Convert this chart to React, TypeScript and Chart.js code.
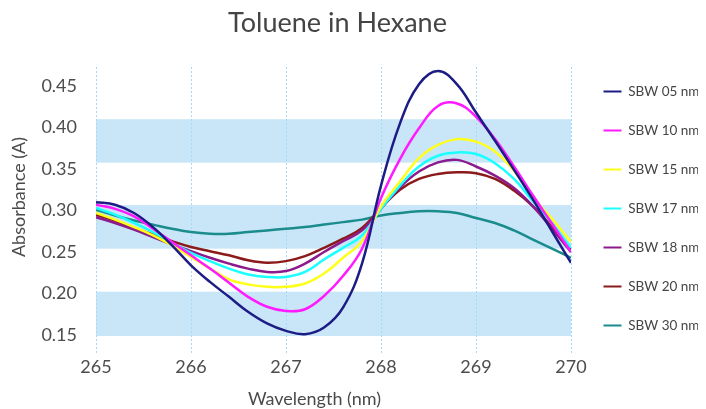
import React, { useEffect, useRef } from "react";
import { Chart, registerables } from "chart.js";

Chart.register(...registerables);

const CHART_TITLE = "Toluene in Hexane";
const X_TITLE = "Wavelength (nm)";
const Y_TITLE = "Absorbance (A)";

const WAVELENGTHS = [
  265.0, 265.2, 265.4, 265.6, 265.8, 266.0, 266.2, 266.4, 266.6, 266.8,
  267.0, 267.2, 267.4, 267.6, 267.8, 268.0, 268.2, 268.4, 268.6, 268.8,
  269.0, 269.2, 269.4, 269.6, 269.8, 270.0,
];

const SBW_05 = [0.310, 0.307, 0.297, 0.280, 0.258, 0.234, 0.214, 0.196, 0.178, 0.164, 0.155, 0.151, 0.159, 0.183, 0.236, 0.330, 0.405, 0.452, 0.468, 0.452, 0.418, 0.384, 0.349, 0.313, 0.275, 0.237];
const SBW_10 = [0.307, 0.302, 0.293, 0.278, 0.262, 0.246, 0.230, 0.213, 0.196, 0.184, 0.179, 0.181, 0.197, 0.221, 0.254, 0.315, 0.362, 0.399, 0.426, 0.429, 0.413, 0.386, 0.353, 0.318, 0.284, 0.250];
const SBW_15 = [0.297, 0.289, 0.280, 0.270, 0.258, 0.244, 0.230, 0.217, 0.211, 0.208, 0.208, 0.212, 0.224, 0.243, 0.263, 0.305, 0.335, 0.363, 0.379, 0.386, 0.383, 0.371, 0.348, 0.316, 0.290, 0.262];
const SBW_17 = [0.303, 0.295, 0.285, 0.274, 0.261, 0.249, 0.239, 0.230, 0.223, 0.220, 0.220, 0.226, 0.241, 0.255, 0.270, 0.302, 0.330, 0.353, 0.366, 0.370, 0.368, 0.357, 0.338, 0.311, 0.285, 0.255];
const SBW_18 = [0.292, 0.285, 0.277, 0.268, 0.259, 0.251, 0.243, 0.236, 0.230, 0.226, 0.227, 0.236, 0.250, 0.263, 0.276, 0.302, 0.328, 0.347, 0.358, 0.361, 0.353, 0.342, 0.327, 0.305, 0.278, 0.250];
const SBW_20 = [0.295, 0.288, 0.279, 0.271, 0.263, 0.256, 0.251, 0.246, 0.240, 0.237, 0.239, 0.245, 0.255, 0.266, 0.279, 0.303, 0.325, 0.338, 0.344, 0.346, 0.345, 0.338, 0.324, 0.305, 0.280, 0.252];
const SBW_30 = [0.301, 0.294, 0.288, 0.283, 0.278, 0.274, 0.272, 0.272, 0.274, 0.276, 0.278, 0.280, 0.283, 0.286, 0.289, 0.294, 0.297, 0.299, 0.299, 0.297, 0.291, 0.285, 0.276, 0.265, 0.254, 0.243];

const SERIES_NAMES = ["SBW 05 nm", "SBW 10 nm", "SBW 15 nm", "SBW 17 nm", "SBW 18 nm", "SBW 20 nm", "SBW 30 nm"];
const SERIES_VALUES = [SBW_05, SBW_10, SBW_15, SBW_17, SBW_18, SBW_20, SBW_30];
const SERIES_COLORS = ["#1c1c84", "#ff1aff", "#ffff1a", "#1affff", "#8c1a8c", "#8b1a1a", "#1a8c8c"];

const X_TICKS = [265, 266, 267, 268, 269, 270];
const Y_MIN = 0.1259;
const Y_MAX = 0.4729;
const BAND_RANGES = [
  [0.3576, 0.41],
  [0.254, 0.3066],
  [0.1488, 0.2022],
];

const FONT = "Lato";

const bandsPlugin = {
  id: "bands",
  beforeDraw(chart: any) {
    const { ctx, chartArea, scales } = chart;
    const y = scales.y;
    ctx.save();
    ctx.fillStyle = "#c9e6f9";
    for (const [lo, hi] of BAND_RANGES) {
      const top = y.getPixelForValue(hi);
      const bottom = y.getPixelForValue(lo);
      ctx.fillRect(chartArea.left, top, chartArea.right - chartArea.left, bottom - top);
    }
    ctx.restore();
  },
};

const textPlugin = {
  id: "texts",
  afterDraw(chart: any) {
    const { ctx, chartArea } = chart;
    const midX = (chartArea.left + chartArea.right) / 2;
    ctx.save();
    ctx.fillStyle = "#444";
    ctx.textAlign = "center";
    ctx.textBaseline = "alphabetic";
    ctx.font = `27px ${FONT}`;
    ctx.fillText(CHART_TITLE, midX + 4, 24);
    ctx.fillStyle = "#4a4a4a";
    ctx.font = `18px ${FONT}`;
    ctx.fillText(X_TITLE, midX - 19, chartArea.bottom + 50);
    ctx.translate(17, (chartArea.top + chartArea.bottom) / 2 - 14);
    ctx.rotate(-Math.PI / 2);
    ctx.fillText(Y_TITLE, 0, 0);
    ctx.restore();
  },
};

export default function App() {
  const canvasRef = useRef<HTMLCanvasElement | null>(null);

  useEffect(() => {
    document.documentElement.style.overflow = "hidden";
    const canvas = canvasRef.current;
    if (!canvas) return;
    const datasets = SERIES_NAMES.map((name, i) => ({
      label: name,
      data: WAVELENGTHS.map((x, j) => ({ x, y: SERIES_VALUES[i][j] })),
      borderColor: SERIES_COLORS[i],
      backgroundColor: SERIES_COLORS[i],
      borderWidth: 2.5,
      pointRadius: 0,
      tension: 0.4,
      fill: false,
    }));

    const chart = new Chart(canvas, {
      type: "line",
      data: { datasets },
      options: {
        animation: false,
        responsive: false,
        devicePixelRatio: 1,
        layout: { padding: { top: 0, left: 0, right: 2, bottom: 0 } },
        plugins: {
          title: {
            display: true,
            text: "",
            font: { family: FONT, size: 26, lineHeight: 1 },
            padding: { top: 20, bottom: 13 },
          },
          tooltip: { enabled: false },
          legend: {
            display: true,
            position: "right",
            align: "center",
            maxWidth: 126,
            labels: {
              boxWidth: 18,
              boxHeight: 2,
              padding: 25.5,
              color: "#444",
              font: { family: FONT, size: 13.5 },
              generateLabels: (c: any) =>
                (Chart.defaults.plugins.legend.labels.generateLabels as any)(c).map((l: any) => ({
                  ...l,
                  lineWidth: 0,
                  strokeStyle: "rgba(0,0,0,0)",
                })),
            },
          },
        },
        scales: {
          x: {
            type: "linear",
            position: "bottom",
            min: 265,
            max: 270,
            afterFit: (s: any) => {
              s.height = 54;
            },
            afterBuildTicks: (s: any) => {
              s.ticks = X_TICKS.map((v) => ({ value: v }));
            },
            ticks: {
              stepSize: 1,
              padding: 1,
              color: "#4d4d4d",
              font: { family: FONT, size: 18 },
              callback: (v: any) => String(v),
            },
            grid: {
              display: true,
              color: "#a6d8f7",
              lineWidth: 1,
              drawTicks: false,
            },
            border: { display: false, dash: [2, 2] },
          },
          y: {
            type: "linear",
            position: "left",
            min: Y_MIN,
            max: Y_MAX,
            afterFit: (s: any) => {
              s.width = 88;
            },
            ticks: {
              stepSize: 0.05,
              includeBounds: false,
              padding: 19,
              color: "#4d4d4d",
              font: { family: FONT, size: 18 },
              callback: (v: any) => Number(v).toFixed(2),
            },
            grid: { display: false, drawTicks: false },
            border: { display: false },
          },
          yR: {
            type: "linear",
            position: "right",
            display: true,
            afterFit: (s: any) => {
              s.width = 7;
            },
            ticks: { display: false },
            grid: { display: false, drawTicks: false },
            border: { display: false },
          },
        },
      },
      plugins: [bandsPlugin, textPlugin],
    });
    return () => chart.destroy();
  }, []);

  return (
    <div style={{ width: 698, height: 401 }}>
      <canvas ref={canvasRef} width={698} height={401} style={{ display: "block" }} />
    </div>
  );
}
